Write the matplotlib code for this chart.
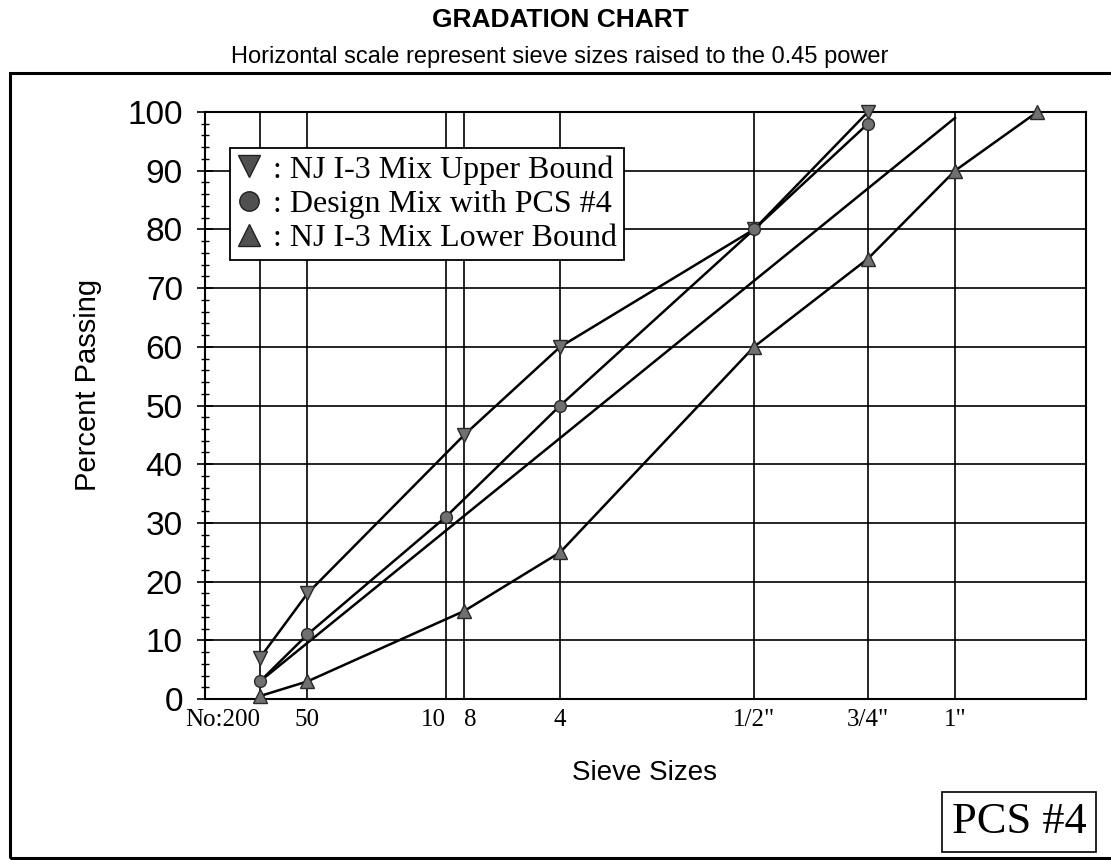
import matplotlib
matplotlib.use("Agg")
import matplotlib.pyplot as plt
from matplotlib.lines import Line2D
from matplotlib.patches import Rectangle
from matplotlib.ticker import MultipleLocator
import numpy as np

# ---- data ----
sieve_labels = ['No:200', '50', '10', '8', '4', '1/2"', '3/4"', '1"']
sieve_mm = [0.075, 0.3, 2.0, 2.36, 4.75, 12.5, 19.0, 25.0]

upper_mm = [0.075, 0.3, 2.36, 4.75, 12.5, 19.0]
upper_pct = [7, 18, 45, 60, 80, 100]

design_mm = [0.075, 0.3, 2.0, 4.75, 12.5, 19.0]
design_pct = [3, 11, 31, 50, 80, 98]

lower_mm = [0.075, 0.3, 2.36, 4.75, 12.5, 19.0, 25.0, 31.5]
lower_pct = [0.5, 3, 15, 25, 60, 75, 90, 100]

maxdens_mm = [0.075, 25.0]
maxdens_pct = [3, 99]

legend_labels = [': NJ I-3 Mix Upper Bound', ': Design Mix with PCS #4', ': NJ I-3 Mix Lower Bound']

POW = 0.45
def xp(v):
    return np.power(np.asarray(v, dtype=float), POW)

W, H = 1111, 860
fig = plt.figure(figsize=(W / 100, H / 100), dpi=100)
fig.patch.set_facecolor('white')

sans = 'Liberation Sans'
serif = 'Liberation Serif'

ax = fig.add_axes([205 / W, 1 - 699 / H, (1086 - 205) / W, (699 - 112) / H])
ax.set_xlim(0, 5)
ax.set_ylim(0, 100)

line_kw = dict(color='black', lw=1.8, zorder=3, clip_on=False)
mk_kw = dict(mfc='#707070', mec='#2a2a2a', mew=1.0)
ax.plot(xp(maxdens_mm), maxdens_pct, **line_kw)
ax.plot(xp(upper_mm), upper_pct, marker='v', ms=10, **mk_kw, **line_kw)
ax.plot(xp(design_mm), design_pct, marker='o', ms=8.5, **mk_kw, **line_kw)
ax.plot(xp(lower_mm), lower_pct, marker='^', ms=10, **mk_kw, **line_kw)

# ticks and grid
ax.set_xticks(xp(sieve_mm))
ax.set_xticklabels(sieve_labels, fontfamily=serif, fontsize=18)
ax.tick_params(axis='x', length=0, pad=7)
labs = ax.get_xticklabels()
labs[0].set_horizontalalignment('right')
labs[2].set_horizontalalignment('right')
labs[3].set_horizontalalignment('left')

ax.yaxis.set_major_locator(MultipleLocator(10))
ax.yaxis.set_minor_locator(MultipleLocator(2))
ax.tick_params(axis='y', which='major', direction='inout', length=12, width=1.2,
               labelsize=24, pad=10)
ax.tick_params(axis='y', which='minor', direction='inout', length=6, width=1.0)
for t in ax.get_yticklabels():
    t.set_fontfamily(sans)

ax.grid(True, which='major', color='black', lw=1.2, zorder=1)
for s in ax.spines.values():
    s.set_linewidth(1.5)
    s.set_color('black')

# legend
handles = [
    Line2D([], [], ls='None', marker='v', ms=16, mfc='#505050', mec='#222222'),
    Line2D([], [], ls='None', marker='o', ms=14, mfc='#505050', mec='#222222'),
    Line2D([], [], ls='None', marker='^', ms=16, mfc='#505050', mec='#222222'),
]
leg = ax.legend(handles, legend_labels, loc='upper left',
                bbox_to_anchor=(0.028, 0.9387), borderaxespad=0,
                prop={'family': serif, 'size': 23}, frameon=True, fancybox=False,
                handlelength=0.8, handletextpad=0.35, labelspacing=0.16,
                borderpad=0.22)
leg.get_frame().set_edgecolor('black')
leg.get_frame().set_linewidth(1.3)
leg.get_frame().set_facecolor('white')
leg.get_frame().set_alpha(1)
leg.set_zorder(5)

# titles and labels
fig.text(560 / W, 1 - 20 / H, 'GRADATION CHART', ha='center', va='center',
         fontfamily=sans, fontweight='bold', fontsize=19)
fig.text(560 / W, 1 - 57 / H,
         'Horizontal scale represent sieve sizes raised to the 0.45 power',
         ha='center', va='center', fontfamily=sans, fontsize=17)
fig.text(645 / W, 1 - 773 / H, 'Sieve Sizes', ha='center', va='center',
         fontfamily=sans, fontsize=20)
fig.text(88 / W, 1 - 385 / H, 'Percent Passing', ha='center', va='center',
         rotation=90, fontfamily=sans, fontsize=21)

fig.text(1019 / W, 1 - 822 / H, 'PCS #4', ha='center', va='center',
         fontfamily=serif, fontsize=32,
         bbox=dict(boxstyle='square,pad=0.22', fc='white', ec='black', lw=1.2))

# outer frame
fig.patches.append(Rectangle((10 / W, 1 - 858 / H), 1.2, (858 - 73) / H,
                             transform=fig.transFigure, fill=False,
                             ec='black', lw=2.2, clip_on=False))

fig.savefig('out.png', dpi=100)
